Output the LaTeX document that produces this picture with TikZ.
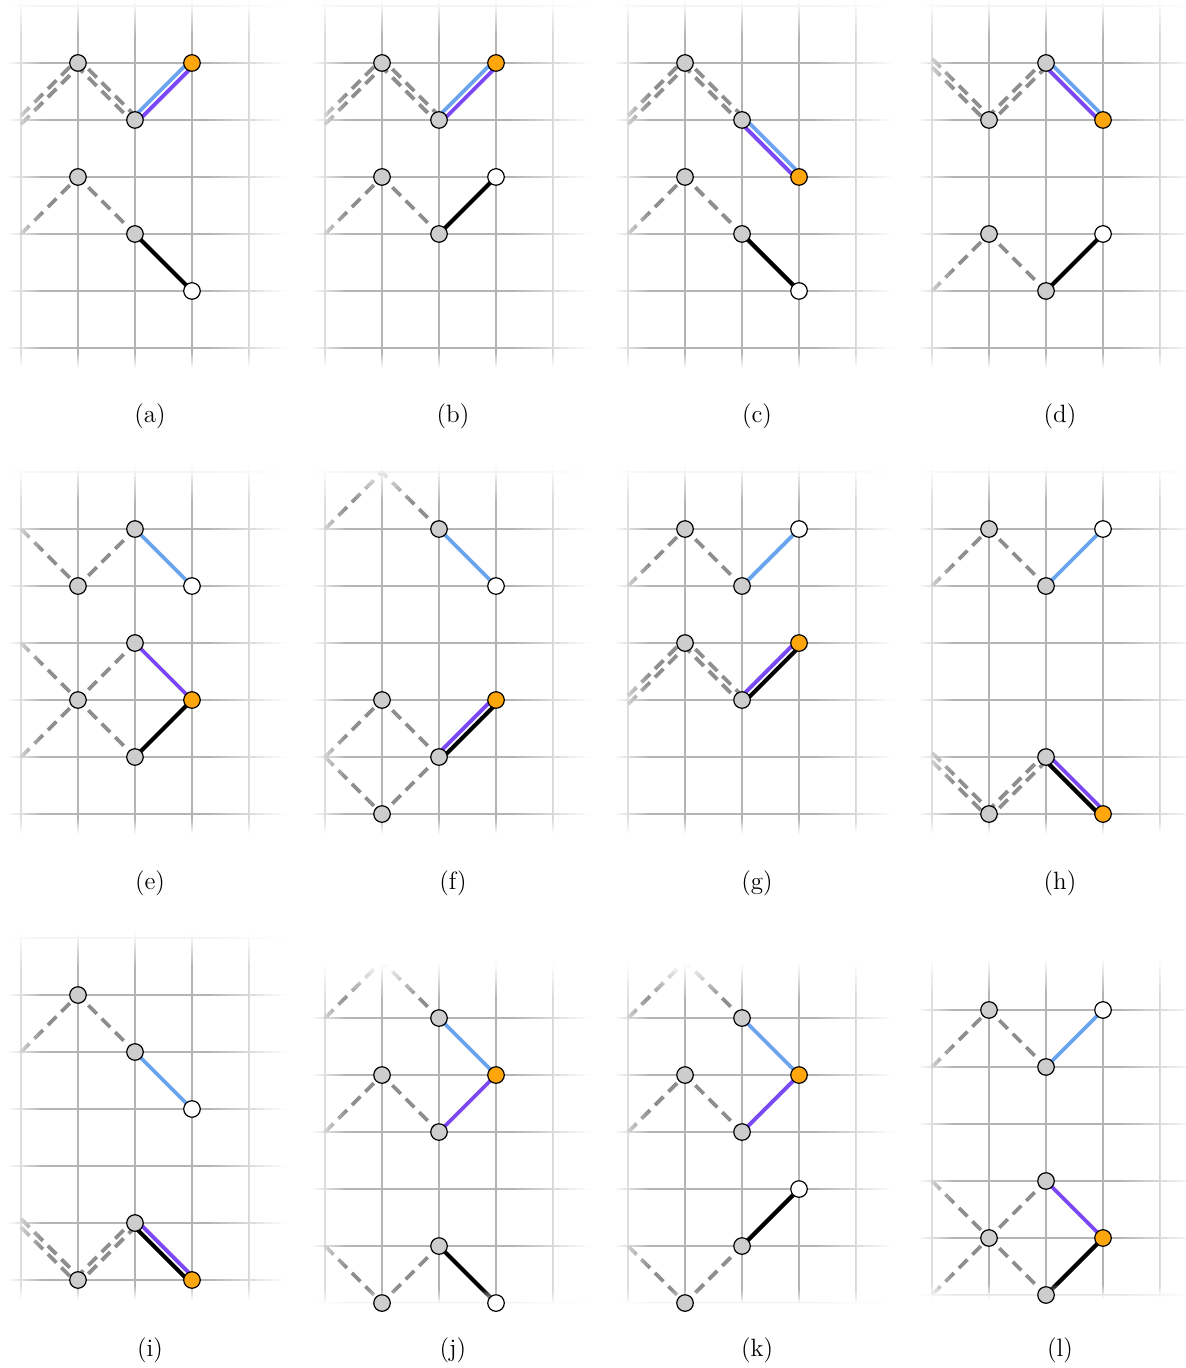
\documentclass[tikz,border=0pt]{standalone}
\usepackage{xcolor}
\usepackage{tikz}
\usetikzlibrary{calc}
\definecolor{gridgray}{HTML}{B4B4B4}
\definecolor{histgray}{HTML}{8E8E8E}
\definecolor{nodegray}{HTML}{CDCDCD}
\definecolor{walkblue}{HTML}{6AA3EE}
\definecolor{walkpurple}{HTML}{7B48F6}
\definecolor{headorange}{HTML}{FFA60D}

\pgfdeclarelayer{gridlayer}
\pgfdeclarelayer{walklayer}
\pgfdeclarelayer{fadelayer}
\pgfsetlayers{gridlayer,walklayer,fadelayer,main}

% one panel grid: #1 rows (y), #2 top, #3 bottom; edges fade to white
\newcommand{\panelgrid}[3]{%
  \begin{pgfonlayer}{gridlayer}
    \foreach \c in {0,...,4} \draw[gridln] (\c,#2) -- (\c,#3);
    \foreach \y in {#1} \draw[gridln] (-0.23,\y) -- (4.63,\y);
  \end{pgfonlayer}
  \begin{pgfonlayer}{fadelayer}
    \fill[white] (-0.3,#2) rectangle (4.7,#2+0.35);
    \foreach \k in {0,...,9} {
      \pgfmathsetmacro{\op}{0.95*(1-\k/10)}
      \fill[white, fill opacity=\op] ({-0.25+0.06*\k},#2) rectangle ({-0.19+0.06*\k},#3);
      \fill[white, fill opacity=\op] ({4.65-0.13*\k},#2) rectangle ({4.52-0.13*\k},#3);
      \fill[white, fill opacity=\op] (-0.25,{#2-0.06*\k}) rectangle (4.65,{#2-0.06*(\k+1)});
      \fill[white, fill opacity=\op] (-0.25,{#3+0.025*\k}) rectangle (4.65,{#3+0.025*(\k+1)});
    }
  \end{pgfonlayer}}

\begin{document}
\begin{tikzpicture}
    \tikzstyle{gridln} = [draw=gridgray, line width=0.9pt]
    \tikzstyle{hist} = [draw=histgray, line width=1.9pt, dash pattern=on 6pt off 3.5pt]
    \tikzstyle{bluestep} = [draw=walkblue, line width=1.9pt]
    \tikzstyle{purplestep} = [draw=walkpurple, line width=1.9pt]
    \tikzstyle{blackstep} = [draw=black, line width=2.1pt]
    \tikzstyle{upside} = [transform canvas={yshift=2.1pt}]
    \tikzstyle{downside} = [transform canvas={yshift=-2.1pt}]
    \tikzstyle{gnode} = [circle, draw=black, line width=0.6pt, fill=nodegray, minimum size=0.29cm, inner sep=0pt]
    \tikzstyle{onode} = [gnode, fill=headorange]
    \tikzstyle{wnode} = [gnode, fill=white]
    \tikzstyle{panellabel} = [font=\fontsize{12.5}{15}\selectfont]

    \useasboundingbox (0,0) rectangle (20.807,-24.0);

    % (a)
    \begin{scope}[shift={(0.368,-1.105)}]
        \panelgrid{1,0,...,-5}{1.1}{-5.35}
        \node[gnode] (a1) at (1,0) {};
        \node[gnode] (a2) at (2,-1) {};
        \node[onode] (a3) at (3,0) {};
        \node[gnode] (a4) at (1,-2) {};
        \node[gnode] (a5) at (2,-3) {};
        \node[wnode] (a6) at (3,-4) {};
        \coordinate (a0) at (0,-1);
        \coordinate (a00) at (0,-3);
        \begin{pgfonlayer}{walklayer}
            \draw[hist, upside] (a0) -- (a1.center) -- (a2.center);
            \draw[hist, downside] (a0) -- (a1.center) -- (a2.center);
            \draw[bluestep, upside] (a2.center) -- (a3.center);
            \draw[purplestep, downside] (a2.center) -- (a3.center);
            \draw[hist] (a00) -- (a4.center) -- (a5.center);
            \draw[blackstep] (a5.center) -- (a6.center);
        \end{pgfonlayer}
    \end{scope}

    % (b)
    \begin{scope}[shift={(5.702,-1.105)}]
        \panelgrid{1,0,...,-5}{1.1}{-5.35}
        \node[gnode] (b1) at (1,0) {};
        \node[gnode] (b2) at (2,-1) {};
        \node[onode] (b3) at (3,0) {};
        \node[gnode] (b4) at (1,-2) {};
        \node[gnode] (b5) at (2,-3) {};
        \node[wnode] (b6) at (3,-2) {};
        \coordinate (b0) at (0,-1);
        \coordinate (b00) at (0,-3);
        \begin{pgfonlayer}{walklayer}
            \draw[hist, upside] (b0) -- (b1.center) -- (b2.center);
            \draw[hist, downside] (b0) -- (b1.center) -- (b2.center);
            \draw[bluestep, upside] (b2.center) -- (b3.center);
            \draw[purplestep, downside] (b2.center) -- (b3.center);
            \draw[hist] (b00) -- (b4.center) -- (b5.center);
            \draw[blackstep] (b5.center) -- (b6.center);
        \end{pgfonlayer}
    \end{scope}

    % (c)
    \begin{scope}[shift={(11.018,-1.105)}]
        \panelgrid{1,0,...,-5}{1.1}{-5.35}
        \node[gnode] (c1) at (1,0) {};
        \node[gnode] (c2) at (2,-1) {};
        \node[onode] (c3) at (3,-2) {};
        \node[gnode] (c4) at (1,-2) {};
        \node[gnode] (c5) at (2,-3) {};
        \node[wnode] (c6) at (3,-4) {};
        \coordinate (c0) at (0,-1);
        \coordinate (c00) at (0,-3);
        \begin{pgfonlayer}{walklayer}
            \draw[hist, upside] (c0) -- (c1.center) -- (c2.center);
            \draw[hist, downside] (c0) -- (c1.center) -- (c2.center);
            \draw[bluestep, upside] (c2.center) -- (c3.center);
            \draw[purplestep, downside] (c2.center) -- (c3.center);
            \draw[hist] (c00) -- (c4.center) -- (c5.center);
            \draw[blackstep] (c5.center) -- (c6.center);
        \end{pgfonlayer}
    \end{scope}

    % (d)
    \begin{scope}[shift={(16.351,-1.105)}]
        \panelgrid{1,0,...,-5}{1.1}{-5.35}
        \node[gnode] (d1) at (1,-1) {};
        \node[gnode] (d2) at (2,0) {};
        \node[onode] (d3) at (3,-1) {};
        \node[gnode] (d4) at (1,-3) {};
        \node[gnode] (d5) at (2,-4) {};
        \node[wnode] (d6) at (3,-3) {};
        \coordinate (d0) at (0,0);
        \coordinate (d00) at (0,-4);
        \begin{pgfonlayer}{walklayer}
            \draw[hist, upside] (d0) -- (d1.center) -- (d2.center);
            \draw[hist, downside] (d0) -- (d1.center) -- (d2.center);
            \draw[bluestep, upside] (d2.center) -- (d3.center);
            \draw[purplestep, downside] (d2.center) -- (d3.center);
            \draw[hist] (d00) -- (d4.center) -- (d5.center);
            \draw[blackstep] (d5.center) -- (d6.center);
        \end{pgfonlayer}
    \end{scope}

    % (e)
    \begin{scope}[shift={(0.368,-9.281)}]
        \panelgrid{1,0,...,-5}{1.1}{-5.35}
        \node[gnode] (e1) at (1,-1) {};
        \node[gnode] (e2) at (2,0) {};
        \node[wnode] (e3) at (3,-1) {};
        \node[gnode] (e4) at (2,-2) {};
        \node[gnode] (e5) at (1,-3) {};
        \node[onode] (e6) at (3,-3) {};
        \node[gnode] (e7) at (2,-4) {};
        \coordinate (e0) at (0,0);
        \coordinate (e8) at (0,-2);
        \coordinate (e9) at (0,-4);
        \begin{pgfonlayer}{walklayer}
            \draw[hist] (e0) -- (e1.center) -- (e2.center);
            \draw[bluestep] (e2.center) -- (e3.center);
            \draw[hist] (e9) -- (e5.center) -- (e4.center);
            \draw[hist] (e8) -- (e5.center) -- (e7.center);
            \draw[purplestep] (e4.center) -- (e6.center);
            \draw[blackstep] (e7.center) -- (e6.center);
        \end{pgfonlayer}
    \end{scope}

    % (f)
    \begin{scope}[shift={(5.702,-9.281)}]
        \panelgrid{1,0,...,-5}{1.1}{-5.35}
        \node[gnode] (f1) at (2,0) {};
        \node[wnode] (f2) at (3,-1) {};
        \node[gnode] (f3) at (1,-3) {};
        \node[gnode] (f4) at (2,-4) {};
        \node[onode] (f5) at (3,-3) {};
        \node[gnode] (f6) at (1,-5) {};
        \coordinate (f0) at (0,0);
        \coordinate (fp) at (1,1);
        \coordinate (f7) at (0,-4);
        \begin{pgfonlayer}{walklayer}
            \draw[hist] (f0) -- (fp) -- (f1.center);
            \draw[bluestep] (f1.center) -- (f2.center);
            \draw[hist] (f7) -- (f3.center) -- (f4.center);
            \draw[hist] (f7) -- (f6.center) -- (f4.center);
            \draw[purplestep, upside] (f4.center) -- (f5.center);
            \draw[blackstep, downside] (f4.center) -- (f5.center);
        \end{pgfonlayer}
    \end{scope}

    % (g)
    \begin{scope}[shift={(11.018,-9.281)}]
        \panelgrid{1,0,...,-5}{1.1}{-5.35}
        \node[gnode] (g1) at (1,0) {};
        \node[gnode] (g2) at (2,-1) {};
        \node[wnode] (g3) at (3,0) {};
        \node[gnode] (g4) at (1,-2) {};
        \node[gnode] (g5) at (2,-3) {};
        \node[onode] (g6) at (3,-2) {};
        \coordinate (g0) at (0,-1);
        \coordinate (g7) at (0,-3);
        \begin{pgfonlayer}{walklayer}
            \draw[hist] (g0) -- (g1.center) -- (g2.center);
            \draw[bluestep] (g2.center) -- (g3.center);
            \draw[hist, upside] (g7) -- (g4.center) -- (g5.center);
            \draw[hist, downside] (g7) -- (g4.center) -- (g5.center);
            \draw[purplestep, upside] (g5.center) -- (g6.center);
            \draw[blackstep, downside] (g5.center) -- (g6.center);
        \end{pgfonlayer}
    \end{scope}

    % (h)
    \begin{scope}[shift={(16.351,-9.281)}]
        \panelgrid{1,0,...,-5}{1.1}{-5.35}
        \node[gnode] (h1) at (1,0) {};
        \node[gnode] (h2) at (2,-1) {};
        \node[wnode] (h3) at (3,0) {};
        \node[gnode] (h4) at (1,-5) {};
        \node[gnode] (h5) at (2,-4) {};
        \node[onode] (h6) at (3,-5) {};
        \coordinate (h0) at (0,-1);
        \coordinate (h7) at (0,-4);
        \begin{pgfonlayer}{walklayer}
            \draw[hist] (h0) -- (h1.center) -- (h2.center);
            \draw[bluestep] (h2.center) -- (h3.center);
            \draw[hist, upside] (h7) -- (h4.center) -- (h5.center);
            \draw[hist, downside] (h7) -- (h4.center) -- (h5.center);
            \draw[purplestep, upside] (h5.center) -- (h6.center);
            \draw[blackstep, downside] (h5.center) -- (h6.center);
        \end{pgfonlayer}
    \end{scope}

    % (i)
    \begin{scope}[shift={(0.368,-17.456)}]
        \panelgrid{1,0,...,-5}{1.1}{-5.35}
        \node[gnode] (i1) at (1,0) {};
        \node[gnode] (i2) at (2,-1) {};
        \node[wnode] (i3) at (3,-2) {};
        \node[gnode] (i4) at (1,-5) {};
        \node[gnode] (i5) at (2,-4) {};
        \node[onode] (i6) at (3,-5) {};
        \coordinate (i0) at (0,-1);
        \coordinate (i7) at (0,-4);
        \begin{pgfonlayer}{walklayer}
            \draw[hist] (i0) -- (i1.center) -- (i2.center);
            \draw[bluestep] (i2.center) -- (i3.center);
            \draw[hist, upside] (i7) -- (i4.center) -- (i5.center);
            \draw[hist, downside] (i7) -- (i4.center) -- (i5.center);
            \draw[purplestep, upside] (i5.center) -- (i6.center);
            \draw[blackstep, downside] (i5.center) -- (i6.center);
        \end{pgfonlayer}
    \end{scope}

    % (j)
    \begin{scope}[shift={(5.702,-17.860)}]
        \panelgrid{0,-1,...,-5}{0.95}{-5.03}
        \node[gnode] (j1) at (2,0) {};
        \node[gnode] (j2) at (1,-1) {};
        \node[onode] (j3) at (3,-1) {};
        \node[gnode] (j4) at (2,-2) {};
        \node[gnode] (j5) at (2,-4) {};
        \node[gnode] (j6) at (1,-5) {};
        \node[wnode] (j7) at (3,-5) {};
        \coordinate (j0) at (0,0);
        \coordinate (jp) at (1,1);
        \coordinate (j8) at (0,-2);
        \coordinate (j9) at (0,-4);
        \begin{pgfonlayer}{walklayer}
            \draw[hist] (j0) -- (jp) -- (j1.center);
            \draw[bluestep] (j1.center) -- (j3.center);
            \draw[hist] (j8) -- (j2.center) -- (j4.center);
            \draw[purplestep] (j4.center) -- (j3.center);
            \draw[hist] (j9) -- (j6.center) -- (j5.center);
            \draw[blackstep] (j5.center) -- (j7.center);
        \end{pgfonlayer}
    \end{scope}

    % (k)
    \begin{scope}[shift={(11.018,-17.860)}]
        \panelgrid{0,-1,...,-5}{0.95}{-5.03}
        \node[gnode] (k1) at (2,0) {};
        \node[gnode] (k2) at (1,-1) {};
        \node[onode] (k3) at (3,-1) {};
        \node[gnode] (k4) at (2,-2) {};
        \node[gnode] (k5) at (2,-4) {};
        \node[gnode] (k6) at (1,-5) {};
        \node[wnode] (k7) at (3,-3) {};
        \coordinate (k0) at (0,0);
        \coordinate (kp) at (1,1);
        \coordinate (k8) at (0,-2);
        \coordinate (k9) at (0,-4);
        \begin{pgfonlayer}{walklayer}
            \draw[hist] (k0) -- (kp) -- (k1.center);
            \draw[bluestep] (k1.center) -- (k3.center);
            \draw[hist] (k8) -- (k2.center) -- (k4.center);
            \draw[purplestep] (k4.center) -- (k3.center);
            \draw[hist] (k9) -- (k6.center) -- (k5.center);
            \draw[blackstep] (k5.center) -- (k7.center);
        \end{pgfonlayer}
    \end{scope}

    % (l)
    \begin{scope}[shift={(16.351,-17.719)}]
        \panelgrid{0,-1,...,-5}{0.9}{-5.07}
        \node[gnode] (l1) at (1,0) {};
        \node[gnode] (l2) at (2,-1) {};
        \node[wnode] (l3) at (3,0) {};
        \node[gnode] (l4) at (2,-3) {};
        \node[gnode] (l5) at (1,-4) {};
        \node[onode] (l6) at (3,-4) {};
        \node[gnode] (l7) at (2,-5) {};
        \coordinate (l0) at (0,-1);
        \coordinate (l8) at (0,-3);
        \coordinate (l9) at (0,-5);
        \begin{pgfonlayer}{walklayer}
            \draw[hist] (l0) -- (l1.center) -- (l2.center);
            \draw[bluestep] (l2.center) -- (l3.center);
            \draw[hist] (l8) -- (l5.center) -- (l7.center);
            \draw[hist] (l9) -- (l5.center) -- (l4.center);
            \draw[purplestep] (l4.center) -- (l6.center);
            \draw[blackstep] (l7.center) -- (l6.center);
        \end{pgfonlayer}
    \end{scope}

    \foreach \t/\x/\y in {a/2.632/-7.30, b/7.947/-7.30, c/13.281/-7.30, d/18.596/-7.30,
                          e/2.632/-15.50, f/7.947/-15.50, g/13.281/-15.50, h/18.596/-15.50,
                          i/2.632/-23.68, j/7.947/-23.68, k/13.281/-23.68, l/18.596/-23.68}
        \node[panellabel] (lab\t) at (\x,\y) {(\t)};
\end{tikzpicture}
\end{document}
